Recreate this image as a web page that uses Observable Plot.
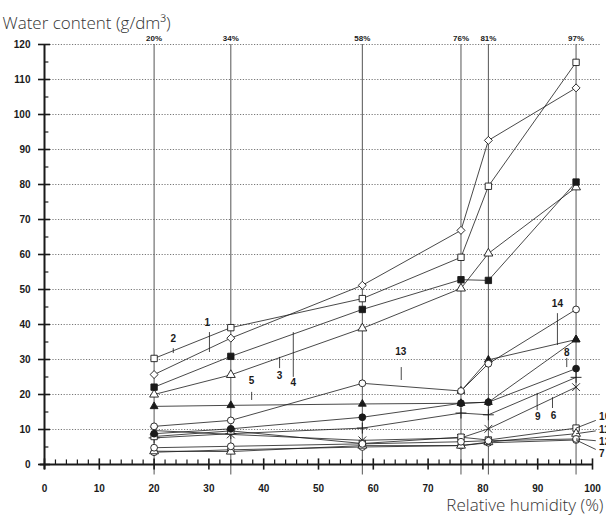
<!DOCTYPE html>
<html><head><meta charset="utf-8">
<script src="https://cdn.jsdelivr.net/npm/d3@7"></script>
<script src="https://cdn.jsdelivr.net/npm/@observablehq/plot@0.6"></script>
<style>body{margin:0;background:#fff}</style>
</head><body><div id="chart"></div>
<script>
// Relative humidity levels (x) and their labels
const rh = [20, 34, 58, 76, 81, 97];
const rhLabels = ["20%", "34%", "58%", "76%", "81%", "97%"];
const yTicks = [0, 10, 20, 30, 40, 50, 60, 70, 80, 90, 100, 110, 120];
const xTicks = [0, 10, 20, 30, 40, 50, 60, 70, 80, 90, 100];

// Series values (water content, g/dm3) at each RH level (null = no point)
const s1  = [25.7, 36.1, 51.2, 66.9, 92.6, 107.6];
const s2  = [30.3, 39.1, 47.4, 59.2, 79.5, 114.9];
const s3  = [20.0, 25.6, 38.9, 50.3, 60.3, 79.2];
const s4  = [22.1, 30.9, 44.3, 52.8, 52.6, 80.7];
const s5  = [16.6, 16.9, 17.3, 17.5, 17.8, 35.7];
const s6  = [9.7, 8.6, 6.9, 7.6, 10.2, 22.1];
const s7  = [3.5, 4.2, 5.0, 5.4, 6.2, 7.0];
const s8  = [8.8, 10.2, 13.5, 17.5, 17.8, 27.4];
const s9  = [7.6, 8.8, 10.4, 14.7, 14.2, 24.9];
const s10 = [8.0, 9.6, 6.0, 7.8, 7.0, 10.4];
const s11 = [3.8, 3.7, 5.4, 5.4, 6.4, 8.8];
const s12 = [4.8, 5.2, 5.9, 6.5, 6.8, 7.3];
const s13 = [10.9, 12.6, 23.2, 21.0, 28.8, 44.3];
const s14 = [null, null, null, 21.0, 29.9, 35.7];
const seriesNames = ["1","2","3","4","5","6","7","8","9","10","11","12","13","14"];
const seriesValues = [s1,s2,s3,s4,s5,s6,s7,s8,s9,s10,s11,s12,s13,s14];

// Marker per series: [symbol, filled]
const seriesMarkers = [
  ["diamond2", false], ["square", false], ["triangle", false], ["square", true],
  ["triangle", true], ["times", false], ["circle", false], ["circle", true],
  ["plus", false], ["square", false], ["triangle", false], ["circle", false],
  ["circle", false], ["triangle", true]
];
// drawing order of markers (later = on top)
const markerOrder = ["14","5","1","2","3","4","6","7","9","10","11","12","8","13"];

// Series annotations: label, label position, leader line (x, y1, y2)
const annNames = ["1","2","3","4","5","13","14","8","9","6"];
const annX     = [29.7, 23.5, 42.9, 45.4, 37.8, 65.0, 93.6, 95.3, 90.0, 92.9];
const annY     = [40.6, 36.0, 25.4, 23.4, 24.0, 32.3, 46.0, 31.8, 13.5, 13.8];
const leadX    = [30.1, 23.5, 42.9, 45.4, 37.8, 65.1, 93.6, 95.3, 89.9, 92.7];
const leadY1   = [37.7, 33.1, 30.6, 37.7, 20.6, 27.7, 43.1, 30.3, 20.3, 19.1];
const leadY2   = [32.0, 31.7, 27.4, 24.9, 18.3, 24.0, 34.0, 27.7, 15.4, 16.0];
// Right-edge labels (cut off by the frame) with leaders from the 97% markers
const edgeNames = ["10", "11", "12", "7"];
const edgeY     = [13.6, 9.9, 6.6, 3.2];
const edgeFromY = [10.4, 8.8, 7.3, 7.0];
const edgeToY   = [12.6, 9.6, 6.8, 4.3];

const rows = seriesValues.flatMap((vals, i) => vals.map((v, j) => ({s: seriesNames[i], x: rh[j], y: v})));
const ann = annNames.map((t, i) => ({t, x: annX[i], y: annY[i], lx: leadX[i], y1: leadY1[i], y2: leadY2[i]}));
const edge = edgeNames.map((t, i) => ({t, y: edgeY[i], fy: edgeFromY[i], ty: edgeToY[i]}));

const font = "Arial, 'Liberation Sans', sans-serif";
const ink = "#1a1a1a";

const dotMarks = markerOrder.map(name => {
  const i = seriesNames.indexOf(name);
  const [sym, filled] = seriesMarkers[i];
  const strokeSym = sym === "plus" || sym === "times";
  return Plot.dot(rows.filter(d => d.s === name && d.y != null), {
    x: "x", y: "y", symbol: sym,
    r: sym === "circle" ? 3.4 : (sym === "triangle" ? (filled ? 2.9 : 3.3) : 3.6),
    fill: strokeSym ? "none" : (filled ? ink : "white"),
    stroke: ink, strokeWidth: 0.9
  });
});

const chart = Plot.plot({
  width: 606, height: 515,
  marginLeft: 44, marginRight: 14, marginTop: 44, marginBottom: 51,
  x: {domain: [0, 100], axis: null},
  y: {domain: [0, 120], axis: null},
  style: {background: "white", overflow: "visible"},
  marks: [
    // dotted horizontal grid
    Plot.ruleY(yTicks.filter(v => v > 0), {x1: 0, x2: 101.5, stroke: "#555", strokeWidth: 0.8, strokeDasharray: "1.2,1.6"}),
    // vertical RH lines
    Plot.ruleX(rh, {y1: -3, y2: 120, stroke: "#555", strokeWidth: 1}),
    Plot.text(rh, {x: d => d, y: 120, text: (d, i) => rhLabels[i], dy: -6, fontSize: 8, fontWeight: "bold", fontFamily: font, fill: ink}),
    // series lines and markers
    Plot.line(rows, {x: "x", y: "y", z: "s", stroke: ink, strokeWidth: 0.8}),
    ...dotMarks,
    // annotations
    Plot.ruleX(ann, {x: "lx", y1: "y1", y2: "y2", stroke: ink, strokeWidth: 0.8}),
    Plot.text(ann, {x: "x", y: "y", text: "t", fontSize: 10, fontWeight: "bold", fontFamily: font, fill: ink}),
    Plot.link(edge, {x1: 97, y1: "fy", x2: 100.6, y2: "ty", stroke: ink, strokeWidth: 0.8}),
    Plot.text(edge, {x: 101.2, y: "y", text: "t", textAnchor: "start", fontSize: 10, fontWeight: "bold", fontFamily: font, fill: ink}),
    // axes
    Plot.ruleX([0], {y1: -1.5, y2: 120, stroke: ink, strokeWidth: 2}),
    Plot.ruleY([0], {x1: -0.8, x2: 100, stroke: ink, strokeWidth: 2}),
    Plot.ruleY(yTicks, {x1: -1.1, x2: 1.1, stroke: ink, strokeWidth: 1.6}),
    Plot.ruleY(yTicks.slice(0, -1).map(v => v + 5), {x1: 0, x2: 0.8, stroke: ink, strokeWidth: 1.2}),
    Plot.ruleX(xTicks, {y1: -1.6, y2: 1.6, stroke: ink, strokeWidth: 1.6}),
    Plot.ruleX(d3.range(2, 100, 2).filter(v => v % 10 !== 0), {y1: 0, y2: 1.3, stroke: ink, strokeWidth: 1.2}),
    Plot.text(yTicks, {x: 0, y: d => d, text: d => String(d), dx: -14, textAnchor: "end", fontSize: 10, fontWeight: "bold", fontFamily: font, fill: ink}),
    Plot.text(xTicks, {x: d => d, y: 0, text: d => String(d), dy: 24, fontSize: 10, fontWeight: "bold", fontFamily: font, fill: ink}),
    // titles
    Plot.text(["Water content (g/dm³)"], {frameAnchor: "top-left", dx: -42, dy: -28, textAnchor: "start", fontSize: 17, fontWeight: 300, fontFamily: "'Open Sans', sans-serif", fill: "#333"}),
    Plot.text(["Relative humidity (%)"], {frameAnchor: "bottom-right", dx: 11, dy: 46, textAnchor: "end", fontSize: 17, fontWeight: 300, fontFamily: "'Open Sans', sans-serif", fill: "#333"})
  ]
});
document.getElementById("chart").appendChild(chart);
</script>
</body></html>
